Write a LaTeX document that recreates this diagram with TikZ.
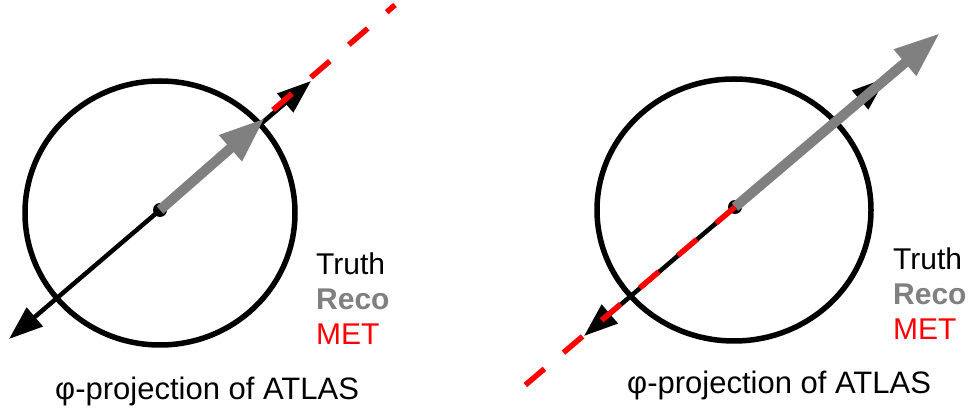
\documentclass[tikz,border=0pt]{standalone}
\usepackage{fontspec}
\setmainfont{Liberation Sans}
\usetikzlibrary{arrows.meta}

\begin{document}
\begin{tikzpicture}[
   x=1pt, y=-1pt,
   ring/.style={draw, line width=5.5pt},
   truth/.style={draw, line width=4.5pt,
                 {Triangle[length=34pt,width=24pt]}-{Triangle[length=34pt,width=24pt]}},
   reco/.style={draw=gray, line width=10pt, -{Triangle[length=46pt,width=32pt]}},
   met/.style={draw=red, line width=5.5pt, dash pattern=on 25pt off 25pt},
   vtx/.style={circle, fill=black, inner sep=0pt, minimum size=14pt},
   lbl/.style={anchor=base west, inner sep=0pt, font=\fontsize{30}{30}\selectfont},
   captxt/.style={anchor=base west, inner sep=0pt, font=\fontsize{31}{31}\selectfont},
]
\useasboundingbox (0,0) rectangle (970,411);
% left panel
\draw[ring] (160,213) ellipse [x radius=135, y radius=132];
\coordinate (ltA) at (9,339);
\coordinate (ltB) at (311,81);
\coordinate (lreco) at (265,118);
\coordinate (lmA) at (273,110);
\coordinate (lmB) at (395,5);
\draw[truth] (ltA) -- (ltB);
\node[vtx] (lv) at (160,210) {};
\draw[reco] (lv.center) -- (lreco);
\draw[met] (lmA) -- (lmB);
\node[lbl] (ltruth) at (316,275) {Truth};
\node[lbl, text=gray, font=\fontsize{30}{30}\selectfont\bfseries] (lrec) at (316,310) {Reco};
\node[lbl, text=red] (lmet) at (316,345) {MET};
\node[captxt] (lcap) at (55,400) {φ-projection of ATLAS};
% right panel
\draw[ring] (734,210) ellipse [x radius=137, y radius=131];
\coordinate (rtA) at (584,336);
\coordinate (rtB) at (886,78);
\coordinate (rreco) at (940,33);
\coordinate (rmB) at (523,387);
\draw[truth] (rtA) -- (rtB);
\node[vtx] (rv) at (735,207) {};
\draw[reco] (rv.center) -- (rreco);
\draw[met] (rv.center) -- (rmB);
\node[lbl] (rtruth) at (893,270) {Truth};
\node[lbl, text=gray, font=\fontsize{30}{30}\selectfont\bfseries] (rrec) at (893,305) {Reco};
\node[lbl, text=red] (rmet) at (893,340) {MET};
\node[captxt] (rcap) at (627,394) {φ-projection of ATLAS};
\end{tikzpicture}
\end{document}
